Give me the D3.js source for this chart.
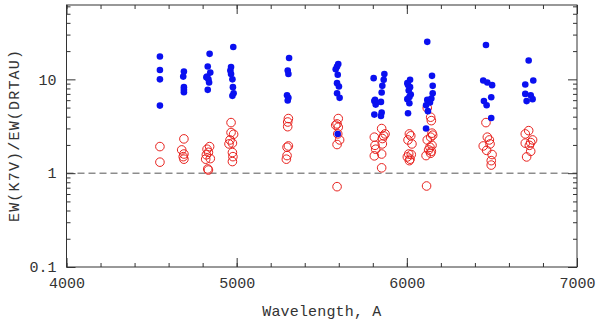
<!DOCTYPE html>
<html>
<head>
<meta charset="utf-8">
<script src="https://cdn.jsdelivr.net/npm/d3@7"></script>
<style>
  body { margin: 0; background: #fff; }
  svg { display: block; }
  .tick text { font-family: "Liberation Mono", monospace; }
</style>
</head>
<body>
<div class="EwPlot"></div>
<script>
// [wavelength, EW ratio]
const blueData = [
  [4549,17.5],[4549,12.6],[4549,10.0],[4549,5.25],
  [4690,12.1],[4686,10.7],[4690,8.26],[4690,7.73],[4690,7.3],
  [4841,18.7],[4830,13.7],[4845,11.8],[4826,10.7],[4834,10.0],[4822,10.5],[4838,9.24],[4830,7.73],
  [4980,22.1],[4967,13.5],[4963,12.4],[4967,11.4],[4975,10.0],[4978,8.26],[4982,7.12],[4975,6.67],
  [5308,16.9],[5300,12.4],[5304,11.4],[5296,6.78],[5304,6.35],[5300,5.94],
  [5597,14.6],[5590,13.7],[5582,12.8],[5594,11.2],[5590,9.11],[5601,8.38],[5590,7.12],[5605,6.35],[5594,2.62],
  [5805,10.3],[5813,6.04],[5809,5.86],[5817,5.38],[5809,4.21],
  [5868,11.4],[5864,9.88],[5856,8.52],[5852,7.23],[5848,5.75],[5852,4.42],[5848,4.08],
  [6019,9.88],[6003,9.11],[6019,8.26],[6011,7.6],[6023,6.88],[6003,6.15],[6015,5.57],[6007,4.35],[6007,8.73],[6015,6.5],
  [6120,25.1],[6148,10.9],[6152,8.52],[6152,7.12],[6144,6.24],[6120,6.04],[6136,5.66],[6113,5.30],[6124,4.58],[6113,2.99],
  [6465,23.2],[6449,9.71],[6473,9.24],[6501,8.67],[6496,6.45],[6453,5.86],[6469,5.30],[6496,3.88],
  [6716,15.9],[6743,9.71],[6696,8.8],[6696,7.0],[6728,6.78],[6739,6.15],[6704,5.86]
]

const redData = [
  [4549,1.92],[4549,1.31],
  [4690,2.32],[4677,1.77],[4690,1.60],[4686,1.50],[4690,1.41],
  [4841,1.92],[4826,1.80],[4834,1.67],[4822,1.57],[4845,1.43],[4818,1.41],[4834,1.08],[4830,1.11],
  [4967,3.46],[4967,2.71],[4982,2.60],[4961,2.26],[4975,2.09],[4955,2.05],[4975,1.66],[4978,1.50],[4975,1.33],
  [5304,3.82],[5300,3.51],[5300,3.13],[5304,1.95],[5296,1.89],[5296,1.54],[5292,1.41],
  [5597,3.82],[5590,3.35],[5582,3.25],[5597,3.09],[5594,2.62],[5605,2.26],[5590,2.02],[5590,0.718],
  [5809,2.42],[5813,1.98],[5817,1.80],[5809,1.53],
  [5852,2.99],[5872,2.62],[5864,2.50],[5856,2.34],[5856,2.05],[5852,1.60],[5852,1.14],
  [6015,2.62],[6023,2.50],[6007,2.26],[6030,2.05],[6011,1.60],[6026,1.58],[6003,1.49],[6015,1.36],[6019,1.41],
  [6120,4.96],[6140,3.95],[6144,3.63],[6148,2.67],[6152,2.54],[6140,2.42],[6120,2.26],[6148,1.98],[6136,1.89],[6128,1.77],[6140,1.63],[6113,1.54],[6144,1.71],[6116,0.73],
  [6465,3.46],[6473,2.42],[6485,2.26],[6449,1.95],[6489,2.05],[6469,1.75],[6501,1.58],[6496,1.36],[6496,1.22],
  [6716,2.84],[6696,2.62],[6739,2.26],[6728,2.12],[6696,2.09],[6720,1.98],[6728,1.71],[6704,1.49]
]

const xMajorTicks = [4000, 5000, 6000, 7000]
const xMinorTicks = d3.range(4000, 7001, 200)
const yMajorTicks = [0.1, 1, 10]
const yMinorTicks = [0.2,0.3,0.4,0.5,0.6,0.7,0.8,0.9,2,3,4,5,6,7,8,9,20,30,40,50,60]
const yTickLabels = ["0.1", "1", "10"]
const refLevel = 1

const width = 600
const height = 321
const margin = ({top: 5, right: 23, bottom: 54, left: 66.5})
const axisColor = "#333"

let x = d3.scaleLinear()
  .domain([4000, 7000])
  .range([margin.left, width - margin.right])

let y = d3.scaleLog()
  .domain([0.1, 62])
  .range([height - margin.bottom, margin.top])

const svg = d3.select(".EwPlot").append("svg")
  .attr("width", width)
  .attr("height", height)
  .attr("viewBox", [0, 0, width, height])

// dashed line at ratio = 1
svg.append("line")
  .attr("x1", x.range()[0]).attr("x2", x.range()[1])
  .attr("y1", y(refLevel)).attr("y2", y(refLevel))
  .attr("stroke", "#555")
  .attr("stroke-width", 1)
  .attr("stroke-dasharray", "7,4")

let styleAxis = g => {
  g.select(".domain").remove()
  g.selectAll("line").attr("stroke", axisColor)
  g.selectAll("text").attr("fill", axisColor).attr("font-size", 15)
}

const yBottom = height - margin.bottom

// bottom
svg.append("g").attr("transform", `translate(0,${yBottom})`)
  .call(d3.axisBottom(x).tickValues(xMinorTicks).tickSize(-4).tickFormat(""))
  .call(styleAxis)
svg.append("g").attr("transform", `translate(0,${yBottom})`)
  .call(d3.axisBottom(x).tickValues(xMajorTicks).tickSize(-9).tickPadding(10).tickFormat(d3.format("d")))
  .call(styleAxis)
// top
svg.append("g").attr("transform", `translate(0,${margin.top})`)
  .call(d3.axisTop(x).tickValues(xMinorTicks).tickSize(-4).tickFormat(""))
  .call(styleAxis)
svg.append("g").attr("transform", `translate(0,${margin.top})`)
  .call(d3.axisTop(x).tickValues(xMajorTicks).tickSize(-9).tickFormat(""))
  .call(styleAxis)
// left
svg.append("g").attr("transform", `translate(${margin.left},0)`)
  .call(d3.axisLeft(y).tickValues(yMinorTicks).tickSize(-4).tickFormat(""))
  .call(styleAxis)
svg.append("g").attr("transform", `translate(${margin.left},0)`)
  .call(d3.axisLeft(y).tickValues(yMajorTicks).tickSize(-9).tickPadding(10)
    .tickFormat((d, i) => yTickLabels[i]))
  .call(styleAxis)
// right
svg.append("g").attr("transform", `translate(${width - margin.right},0)`)
  .call(d3.axisRight(y).tickValues(yMinorTicks).tickSize(-4).tickFormat(""))
  .call(styleAxis)
svg.append("g").attr("transform", `translate(${width - margin.right},0)`)
  .call(d3.axisRight(y).tickValues(yMajorTicks).tickSize(-9).tickFormat(""))
  .call(styleAxis)

// frame
svg.append("rect")
  .attr("x", margin.left).attr("y", margin.top)
  .attr("width", x.range()[1] - margin.left)
  .attr("height", yBottom - margin.top)
  .attr("fill", "none")
  .attr("stroke", axisColor)
  .attr("stroke-width", 1)

// open red circles
svg.append("g")
    .attr("stroke", "#e8221e")
    .attr("stroke-width", 1)
    .attr("fill", "none")
  .selectAll("circle")
  .data(redData)
  .join("circle")
    .attr("cx", d => x(d[0]))
    .attr("cy", d => y(d[1]))
    .attr("r", 4.3)

// filled blue dots
svg.append("g")
    .attr("fill", "#0a10f0")
  .selectAll("circle")
  .data(blueData)
  .join("circle")
    .attr("cx", d => x(d[0]))
    .attr("cy", d => y(d[1]))
    .attr("r", 3.3)

// axis titles
svg.append("text")
  .attr("x", (margin.left + x.range()[1]) / 2)
  .attr("y", 316)
  .attr("text-anchor", "middle")
  .attr("font-family", "'Liberation Mono', monospace")
  .attr("font-size", 15)
  .attr("fill", axisColor)
  .attr("textLength", 119)
  .attr("lengthAdjust", "spacing")
  .text("Wavelength, A")

svg.append("text")
  .attr("text-anchor", "middle")
  .attr("transform", "translate(19,136)rotate(-90)")
  .attr("font-family", "'Liberation Mono', monospace")
  .attr("font-size", 15)
  .attr("fill", axisColor)
  .attr("textLength", 172)
  .attr("lengthAdjust", "spacing")
  .text("EW(K7V)/EW(DRTAU)")
</script>
</body>
</html>
